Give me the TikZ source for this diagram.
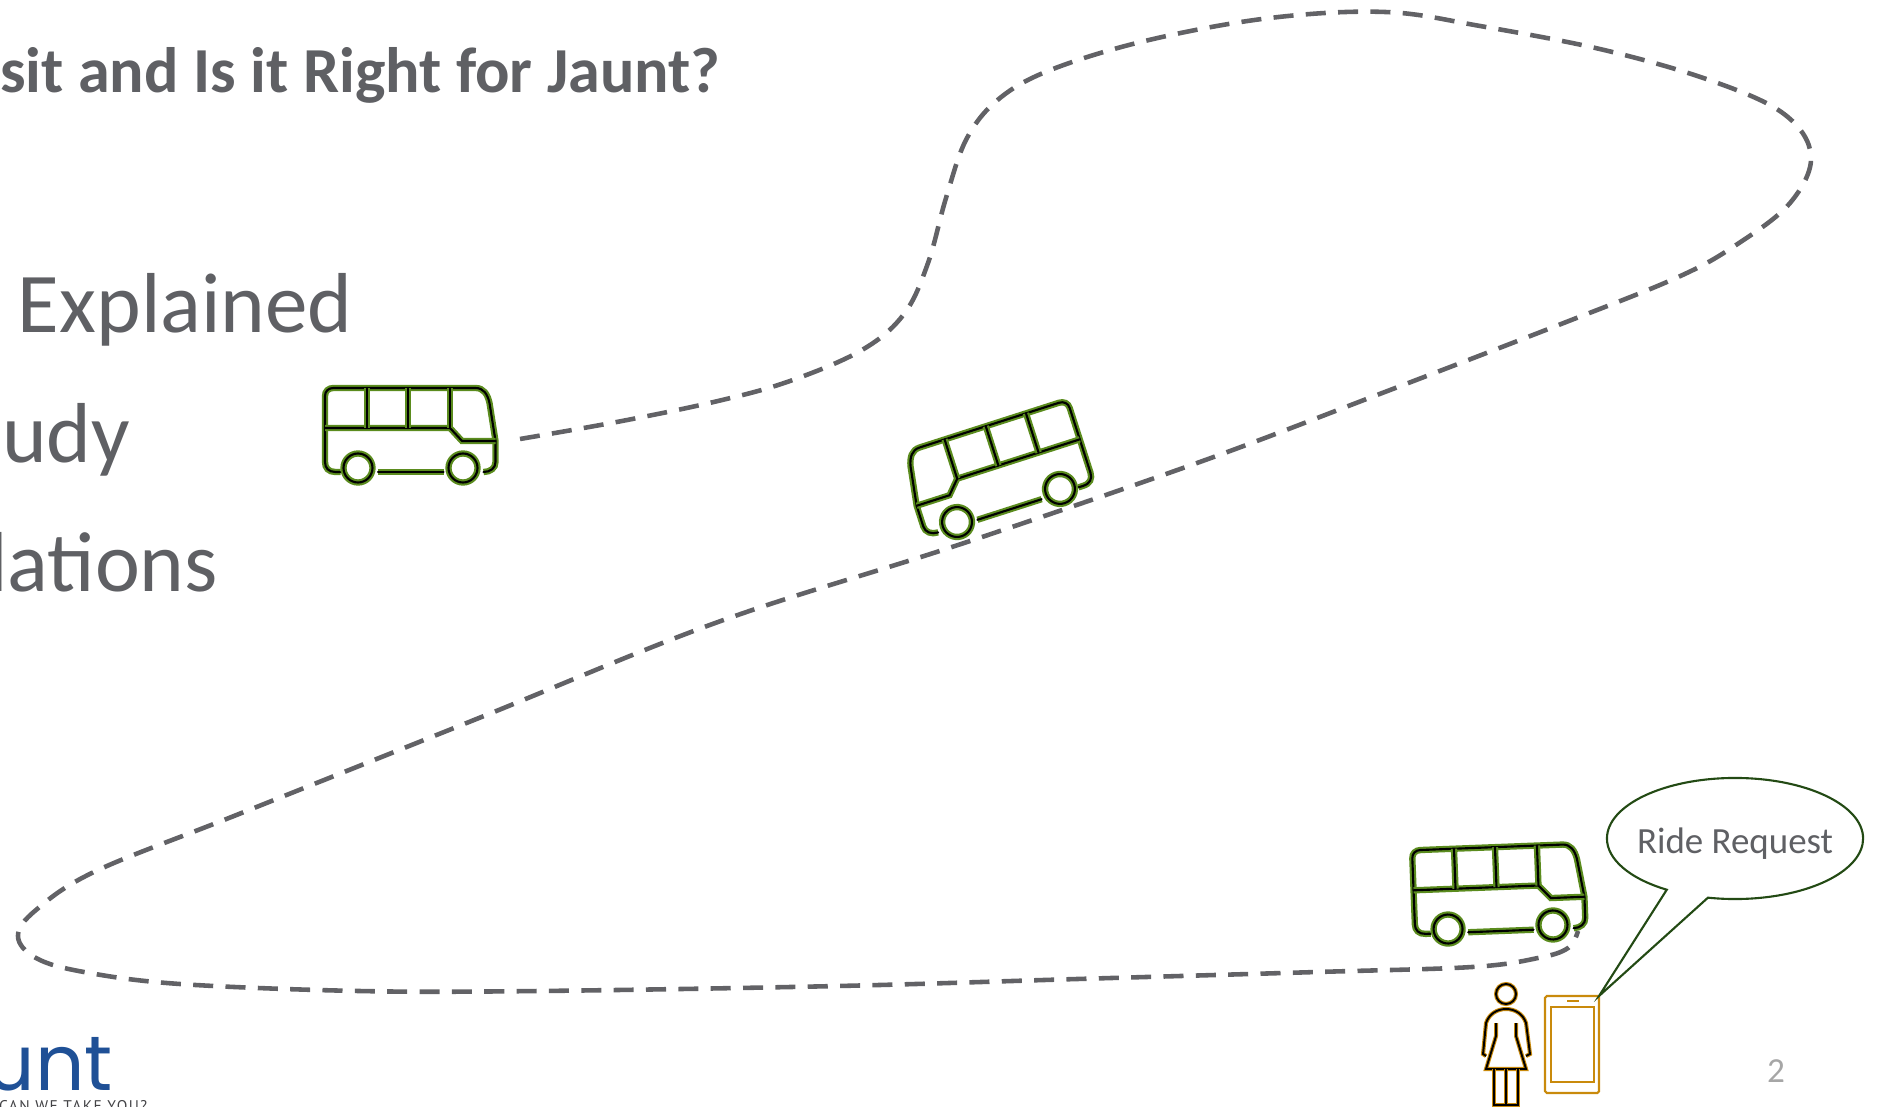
\documentclass[tikz,border=0pt]{standalone}
\usepackage{fontspec}
\setmainfont{Carlito}
\newfontfamily\logofont{Poppins}
\newfontfamily\tagfont[LetterSpace=9]{PT Sans}
\usetikzlibrary{shapes.callouts}
\definecolor{slidegray}{HTML}{5F6064}
\definecolor{routegray}{HTML}{626266}
\definecolor{busgreen}{HTML}{5B8C1E}
\definecolor{calloutgreen}{HTML}{234A14}
\definecolor{phoneorange}{HTML}{C98A0C}
\definecolor{logoblue}{HTML}{1F5096}
\tikzset{
  busline/.style={draw=black,line width=.6pt,line cap=round,preaction={draw=busgreen,line width=1.8pt}},
  riderline/.style={draw=black,line width=.55pt,preaction={draw=phoneorange,line width=1.15pt}},
  pics/busicon/.style={code={
    \path[busline] (-70,4)--(-75,4) .. controls (-82,4) and (-85.5,0) .. (-85.5,-6)--(-85.5,-72)
      .. controls (-85.5,-77) and (-82,-80) .. (-77,-80)--(65,-80) .. controls (73,-80) and (77,-74) .. (79,-65)
      --(85,-27)--(85,-6) .. controls (85,0) and (80,4) .. (73,4);
    \path[busline] (-32.5,4)--(33,4);
    \path[busline] (-85.5,-40)--(39.5,-40)--(51.5,-27)--(85,-27);
    \path[busline] (-43.5,-80)--(-43.5,-40) (-2.5,-80)--(-2.5,-40) (39.5,-80)--(39.5,-40);
    \path[busline] (-52.5,0) circle (14.5) (52.5,0) circle (14.5);
  }}
}
\begin{document}
\begin{tikzpicture}[x=0.01cm,y=-0.01cm,
  every node/.style={inner sep=0pt,outer sep=0pt},
  slidetext/.style={text=slidegray}]
\useasboundingbox (0,0) rectangle (1877,1107);
\clip (0,0) rectangle (1877,1107);
\node[slidetext,anchor=base west,font=\bfseries\fontsize{18.25}{22}\selectfont] (title) at (0,93) {sit and Is it Right for Jaunt?};
\node[slidetext,anchor=base west,font=\fontsize{24.2}{28}\selectfont] (explained) at (18,333) {Explained};
\node[slidetext,anchor=base east,font=\fontsize{24.2}{28}\selectfont] (study) at (130,463) {udy};
\node[slidetext,anchor=base east,font=\fontsize{24.2}{28}\selectfont] (relations) at (218,592) {lations};
% route of the shuttle
\draw[routegray,line width=1.3pt,dash pattern=on 5.7pt off 3.5pt] plot[smooth,tension=.6] coordinates {
  (520,439) (622,421) (718,401) (790,381) (862,350) (904,314) (928,263) (946,198) (967,138) (1000,98)
  (1053,69) (1149,40) (1270,18) (1385,12) (1480,26) (1604,50) (1712,81) (1784,114) (1811,156) (1790,203)
  (1736,245) (1676,278) (1556,326) (1377,395) (1197,463) (958,545) (718,622) (479,718) (239,814) (96,871)
  (36,910) (18,936) (36,958) (84,972) (180,984) (359,991) (539,991) (838,986) (1077,979) (1317,972)
  (1472,967) (1538,958) (1568,948) (1578,931)};
\pic (busA) at (410.5,468) {busicon};
\pic[rotate=17.8,xscale=-1.03,yscale=1.03] (busB) at (1008.5,505.5) {busicon};
\pic[rotate=2.2] (busC) at (1500.5,927) {busicon};
% rider and phone
\draw[riderline] (1506,994) circle (10);
\draw[riderline] (1486,1056) -- (1483,1054) -- (1486,1023) .. controls (1489,1014) and (1497,1009) .. (1506,1009)
  .. controls (1515,1009) and (1523,1014) .. (1526,1023) -- (1530,1054) -- (1526,1056);
\draw[riderline] (1496,1023) -- (1496,1036) -- (1486,1069) -- (1526,1069) -- (1516,1036) -- (1516,1023);
\draw[riderline] (1494,1069) -- (1494,1105) -- (1518,1105) -- (1518,1069) (1506,1069) -- (1506,1105);
\node[draw=phoneorange,line width=.6pt,rounded corners=.5pt,minimum width=54*0.01cm,minimum height=97*0.01cm] (phone) at (1572,1044.5) {};
\node[draw=phoneorange,line width=.6pt,minimum width=43*0.01cm,minimum height=75*0.01cm] (screen) at (1572.5,1044.5) {};
\draw[phoneorange,line width=.6pt] (1567,1001) -- (1579,1001);
\node[ellipse callout,draw=calloutgreen,line width=.6pt,fill=white,minimum width=2.56cm,minimum height=1.21cm,
  callout absolute pointer={(phone.north east)},callout pointer arc=20,text=slidegray,font=\fontsize{10.5}{12}\selectfont] (request) at (1735,838.5) {\makebox[0pt]{\smash{\raisebox{-4.25pt}{Ride Request}}}};
\node[text=black!35,font=\fontsize{10}{12}\selectfont] (pagenum) at (1776,1071) {2};
% logo
\node[text=logoblue,anchor=base east,font=\logofont\fontsize{22}{24}\selectfont] (logo) at (113,1090) {unt};
\node[text=slidegray!70!black,anchor=base east,font=\tagfont\fontsize{4.4}{5}\selectfont] (tagline) at (147,1111) {CAN WE TAKE YOU?};
\end{tikzpicture}
\end{document}
